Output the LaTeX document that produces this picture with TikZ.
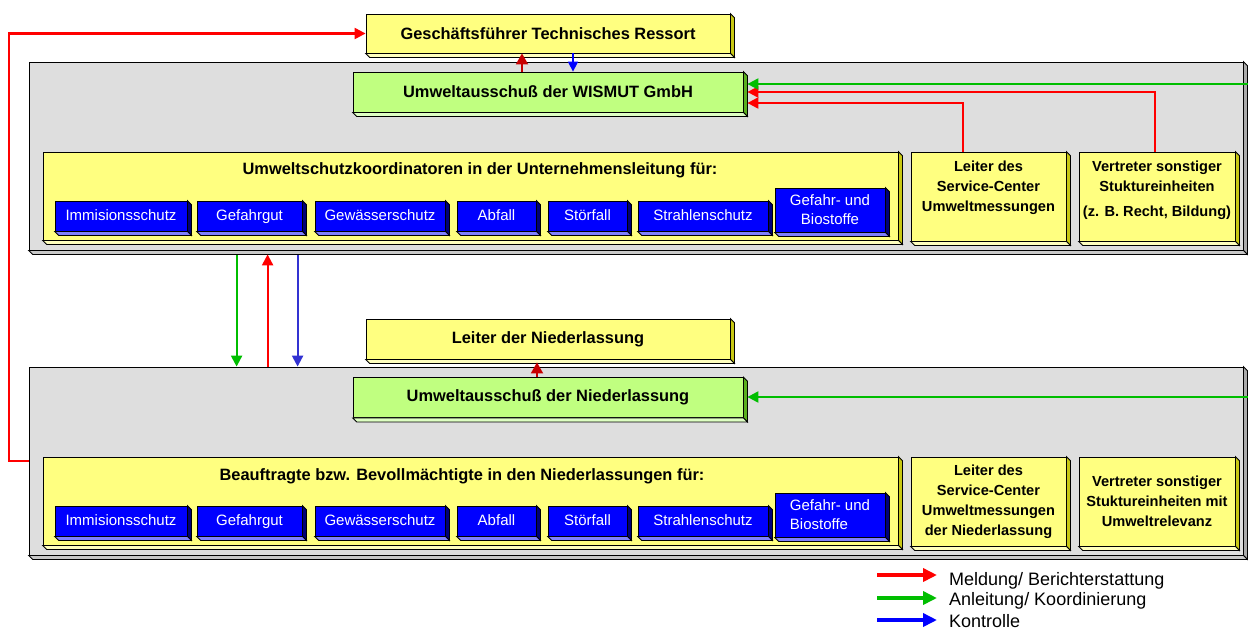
\documentclass[tikz,border=0pt]{standalone}
\usepackage{fontspec}
\setmainfont{Liberation Sans}
\usetikzlibrary{arrows.meta,positioning,calc}

\definecolor{boxyellow}{RGB}{255,255,128}
\definecolor{yellowside}{RGB}{200,200,20}
\definecolor{yellowbase}{RGB}{255,255,190}
\definecolor{boxgreen}{RGB}{192,255,128}
\definecolor{greenside}{RGB}{90,175,30}
\definecolor{greenbase}{RGB}{222,255,195}
\definecolor{boxblue}{RGB}{0,0,255}
\definecolor{blueside}{RGB}{0,0,120}
\definecolor{bluebase}{RGB}{128,128,255}
\definecolor{panelgray}{RGB}{222,222,222}
\definecolor{grayside}{RGB}{170,170,170}
\definecolor{graybase}{RGB}{200,200,200}
\definecolor{arrred}{RGB}{255,0,0}
\definecolor{arrdarkred}{RGB}{200,0,0}
\definecolor{arrgreen}{RGB}{0,190,0}
\definecolor{arrblue}{RGB}{50,50,210}
\definecolor{legblue}{RGB}{0,0,255}

% side and bottom face of a raised box
\newcommand{\extrude}[3]{%
  \filldraw[fill=#2, line width=0.8pt] (#1.north east) -- ++(4,4) -- ($(#1.south east)+(4,4)$) -- (#1.south east) -- cycle;
  \filldraw[fill=#3, line width=0.8pt] (#1.south west) -- ++(4,4) -- ($(#1.south east)+(4,4)$) -- (#1.south east) -- cycle;}
% blue subject box: name, x, y, width, text
\newcommand{\fach}[5]{%
  \node[bbox, text height=11pt, text depth=3pt, minimum width=#4, minimum height=30] (#1) at (#2,#3) {#5};
  \extrude{#1}{blueside}{bluebase}}

\tikzset{
  facebox/.style={draw, line width=0.8pt, inner sep=0pt},
  ybox/.style={facebox, fill=boxyellow},
  gbox/.style={facebox, fill=boxgreen},
  bbox/.style={facebox, fill=boxblue, text=white, font=\fontsize{15}{19}\selectfont, align=center},
  panel/.style={facebox, fill=panelgray},
  headtext/.style={font=\bfseries\fontsize{16.4}{19}\selectfont},
  celltext/.style={font=\bfseries\fontsize{14.6}{20}\selectfont, align=center},
  legtext/.style={font=\fontsize{18}{21}\selectfont, anchor=base west, inner sep=0pt},
  flowred/.style={arrred, line width=2.2pt, -{Triangle[length=11pt,width=11pt]}},
  flowgreen/.style={arrgreen, line width=2.2pt, -{Triangle[length=11pt,width=11pt]}},
  flowblue/.style={arrblue, line width=2.2pt, -{Triangle[length=11pt,width=11pt]}},
  shortred/.style={arrdarkred, line width=1.8pt, -{Triangle[length=11pt,width=12pt]}},
  shortblue/.style={legblue, line width=1.6pt, -{Triangle[length=10pt,width=10pt]}},
  legarrow/.style={line width=3.6pt, -{Triangle[length=14pt,width=13pt]}}
}

\begin{document}
\begin{tikzpicture}[x=1pt,y=-1pt]
\useasboundingbox (0,0) rectangle (1248,630);

% Unternehmensleitung
\node[panel, minimum width=1214, minimum height=188] (pu) at (636,156) {}; \extrude{pu}{grayside}{graybase}
\node[ybox, minimum width=364, minimum height=39, headtext] (gf) at (548,33.5) {Geschäftsführer Technisches Ressort}; \extrude{gf}{yellowside}{yellowbase}
\node[gbox, minimum width=390, minimum height=40, headtext] (gau) at (548,92) {Umweltausschuß der WISMUT GmbH}; \extrude{gau}{greenside}{greenbase}
\node[ybox, minimum width=855, minimum height=88] (ku) at (470.5,196) {}; \extrude{ku}{yellowside}{yellowbase}
\node[headtext] (kutxt) at (480,170) {Umweltschutzkoordinatoren in der Unternehmensleitung für:};
\fach{imu}{121}{216}{132}{Immisionsschutz} \fach{gfu}{249.5}{216}{105}{Gefahrgut}
\fach{gwu}{380}{216}{130}{Gewässerschutz} \fach{abu}{496.5}{216}{79}{Abfall}
\fach{sfu}{587.5}{216}{79}{Störfall} \fach{shu}{703}{216}{130}{Strahlenschutz}
\node[bbox, minimum width=110, minimum height=44] (bsu) at (830,210) {Gefahr- und\\Biostoffe}; \extrude{bsu}{blueside}{bluebase}
\node[ybox, minimum width=155, minimum height=89] (lu) at (988.5,196.5) {}; \extrude{lu}{yellowside}{yellowbase}
\node[celltext, below=9pt of lu.north, inner sep=0pt] (lutxt) {Leiter des\\Service-Center\\Umweltmessungen};
\node[ybox, minimum width=156, minimum height=89] (vu) at (1157,196.5) {}; \extrude{vu}{yellowside}{yellowbase}
\node[celltext, below=9pt of vu.north, inner sep=0pt] (vutxt) {Vertreter sonstiger\\Stuktureinheiten\\[5pt](z. B. Recht, Bildung)};

% Niederlassung
\node[panel, minimum width=1214, minimum height=188] (pl) at (636,461) {}; \extrude{pl}{grayside}{graybase}
\node[ybox, minimum width=364, minimum height=40, headtext] (lgf) at (548,339) {Leiter der Niederlassung}; \extrude{lgf}{yellowside}{yellowbase}
\node[gbox, minimum width=390, minimum height=40, headtext] (lgau) at (548,397.5) {Umweltausschuß der Niederlassung}; \extrude{lgau}{greenside}{greenbase}
\node[ybox, minimum width=855, minimum height=88] (kl) at (470.5,501) {}; \extrude{kl}{yellowside}{yellowbase}
\node[headtext] (kltxt) at (462,476) {Beauftragte bzw. Bevollmächtigte in den Niederlassungen für:};
\fach{iml}{121}{521}{132}{Immisionsschutz} \fach{gfl}{249.5}{521}{105}{Gefahrgut}
\fach{gwl}{380}{521}{130}{Gewässerschutz} \fach{abl}{496.5}{521}{79}{Abfall}
\fach{sfl}{587.5}{521}{79}{Störfall} \fach{shl}{703}{521}{130}{Strahlenschutz}
\node[bbox, align=left, minimum width=110, minimum height=44] (bsl) at (830,515) {Gefahr- und\\Biostoffe}; \extrude{bsl}{blueside}{bluebase}
\node[ybox, celltext, minimum width=155, minimum height=89] (ll) at (988.5,501.5) {Leiter des\\Service-Center\\Umweltmessungen\\der Niederlassung}; \extrude{ll}{yellowside}{yellowbase}
\node[ybox, celltext, minimum width=156, minimum height=89] (vl) at (1157,501.5) {Vertreter sonstiger\\Stuktureinheiten mit\\Umweltrelevanz}; \extrude{vl}{yellowside}{yellowbase}

% Verbindungen
\draw[flowred] ([xshift=-25.5]lu.north) |- ([xshift=4,yshift=-11]gau.east);
\draw[flowred] ([xshift=-2]vu.north) |- ([xshift=4]gau.east);
\coordinate (einU) at (1248,84); \draw[flowgreen] (einU) -- ($(einU -| gau.east)+(4,0)$);
\draw[shortred] ([xshift=-26]gau.north) -- ([xshift=-26]gf.south);
\draw[shortblue] ([xshift=25]gf.south) -- ([xshift=25]gau.north);
\draw[flowgreen] ([xshift=208,yshift=-5]pu.south west) -- ([xshift=208]pl.north west);
\draw[flowred] ([xshift=239]pl.north west) -- ([xshift=239,yshift=-4]pu.south west);
\draw[flowblue] ([xshift=269,yshift=-5]pu.south west) -- ([xshift=269]pl.north west);
\draw[shortred] ([xshift=-11]lgau.north) -- ([xshift=-11,yshift=-3]lgf.south);
\coordinate (einL) at (1248,397); \draw[flowgreen] (einL) -- ($(einL -| lgau.east)+(4,0)$);
\draw[flowred] (pl.west) -- ++(-20,0) |- (gf.west);

% Legende
\node[legtext] (lgm) at (949,585) {Meldung/ Berichterstattung};
\node[legtext] (lga) at (949,605) {Anleitung/ Koordinierung};
\node[legtext] (lgk) at (949,627) {Kontrolle};
\draw[legarrow, arrred] ([xshift=-72,yshift=10]lgm.base west) -- ([xshift=-12,yshift=10]lgm.base west);
\draw[legarrow, arrgreen] ([xshift=-72,yshift=7]lga.base west) -- ([xshift=-12,yshift=7]lga.base west);
\draw[legarrow, legblue] ([xshift=-72,yshift=7]lgk.base west) -- ([xshift=-12,yshift=7]lgk.base west);
\end{tikzpicture}
\end{document}
